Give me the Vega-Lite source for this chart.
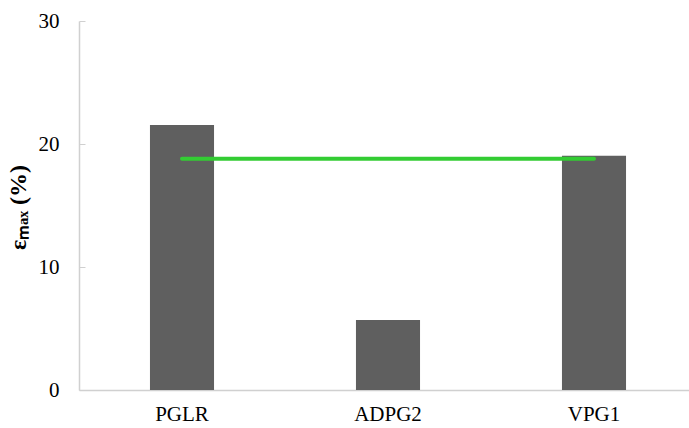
{
  "$schema": "https://vega.github.io/schema/vega-lite/v6.json",
  "width": 610,
  "height": 369,
  "autosize": "none",
  "padding": {"left": 79, "top": 21, "right": 0, "bottom": 38},
  "background": "white",
  "config": {
    "view": {"stroke": null},
    "axis": {"labelFont": "Liberation Serif", "titleFont": "Liberation Serif", "labelColor": "black", "titleColor": "black", "grid": false, "domainColor": "#d0d0d0", "tickColor": "#d0d0d0"}
  },
  "datasets": {
    "bars": [
      {"method": "PGLR", "emax": 21.55},
      {"method": "ADPG2", "emax": 5.7},
      {"method": "VPG1", "emax": 19.05}
    ],
    "line": [
      {"method": "PGLR", "emax": 18.8},
      {"method": "VPG1", "emax": 18.8}
    ]
  },
  "layer": [
    {
      "data": {"name": "bars"},
      "mark": {"type": "bar", "color": "#5f5f5f"},
      "encoding": {
        "x": {"field": "method", "type": "nominal", "sort": ["PGLR", "ADPG2", "VPG1"],
          "scale": {"range": [0, 618], "paddingInner": 0.689, "paddingOuter": 0.3445},
          "axis": {"title": null, "labelAngle": 0, "labelFontSize": 21, "labelPadding": 13, "ticks": false, "domainWidth": 1.5}},
        "y": {"field": "emax", "type": "quantitative",
          "scale": {"domain": [0, 30], "nice": false},
          "axis": {"title": "εₘₐₓ (%)", "titleFontSize": 24, "titleFontWeight": "bold",
            "titleX": -61, "titleY": 186, "titleBaseline": "middle", "titleAlign": "center", "titleAngle": -90,
            "values": [0, 10, 20, 30], "labelFontSize": 21, "labelPadding": 26, "tickSize": -6, "domainWidth": 1.5}}
      }
    },
    {
      "data": {"name": "line"},
      "mark": {"type": "line", "color": "#33cc33", "strokeWidth": 4, "strokeCap": "round"},
      "encoding": {
        "x": {"field": "method", "type": "nominal", "sort": ["PGLR", "ADPG2", "VPG1"]},
        "y": {"field": "emax", "type": "quantitative"}
      }
    }
  ]
}
